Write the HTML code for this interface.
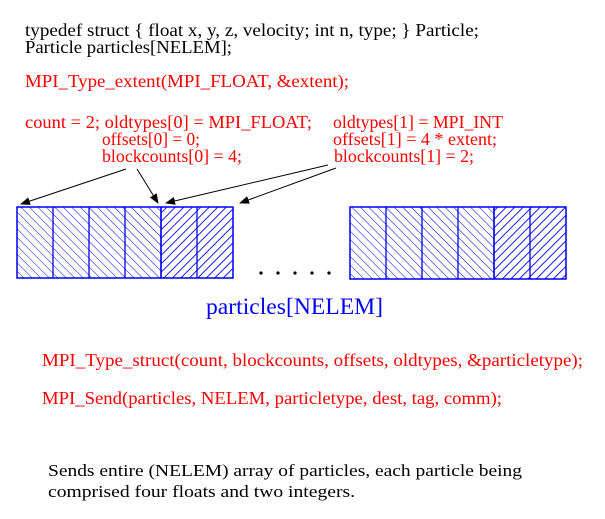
<!DOCTYPE html>
<html><head><meta charset="utf-8"><style>
html,body{margin:0;padding:0;background:#fff;}
svg{display:block;font-family:"Liberation Serif",serif;}
</style></head><body>
<svg width="605" height="519" viewBox="0 0 605 519">
<defs>
<pattern id="fl" width="6" height="6" patternUnits="userSpaceOnUse" patternTransform="rotate(-45)">
<line x1="0" y1="0" x2="0" y2="6" stroke="#00f" stroke-width="1"/></pattern>
<pattern id="in" width="6" height="6" patternUnits="userSpaceOnUse" patternTransform="rotate(45)">
<line x1="0" y1="0" x2="0" y2="6" stroke="#00f" stroke-width="1.8"/></pattern>
<marker id="ah" markerWidth="10" markerHeight="8" refX="9" refY="4" orient="auto" markerUnits="userSpaceOnUse">
<path d="M0,0 L10,4 L0,8 Z" fill="#000"/></marker>
</defs>
<g font-size="18">
<text x="25" y="36" textLength="454" lengthAdjust="spacingAndGlyphs">typedef  struct  { float x, y, z, velocity;   int  n, type; }  Particle;</text>
<text x="25" y="53" textLength="207" lengthAdjust="spacingAndGlyphs">Particle   particles[NELEM];</text>
<g fill="#f00">
<text x="25" y="87" textLength="324" lengthAdjust="spacingAndGlyphs">MPI_Type_extent(MPI_FLOAT, &amp;extent);</text>
<text x="25" y="128" textLength="287" lengthAdjust="spacingAndGlyphs">count = 2;  oldtypes[0] = MPI_FLOAT;</text>
<text x="102" y="145" textLength="98" lengthAdjust="spacingAndGlyphs">offsets[0] = 0;</text>
<text x="102" y="162" textLength="140" lengthAdjust="spacingAndGlyphs">blockcounts[0] = 4;</text>
<text x="333" y="128" textLength="170" lengthAdjust="spacingAndGlyphs">oldtypes[1] = MPI_INT</text>
<text x="333" y="145" textLength="164" lengthAdjust="spacingAndGlyphs">offsets[1] = 4 * extent;</text>
<text x="334" y="162" textLength="140" lengthAdjust="spacingAndGlyphs">blockcounts[1] = 2;</text>
<text x="42" y="366" textLength="541" lengthAdjust="spacingAndGlyphs">MPI_Type_struct(count, blockcounts, offsets, oldtypes, &amp;particletype);</text>
<text x="42" y="404" textLength="460" lengthAdjust="spacingAndGlyphs">MPI_Send(particles,  NELEM, particletype,  dest,  tag,  comm);</text>
</g>
</g>
<g stroke="#000" stroke-width="1" fill="none" marker-end="url(#ah)">
<line x1="126" y1="169" x2="21" y2="204"/>
<line x1="137" y1="169" x2="158" y2="203"/>
<line x1="328" y1="165" x2="166" y2="203"/>
<line x1="336" y1="168" x2="240" y2="203"/>
</g>
<g stroke="#00f" stroke-width="1.3">
<rect x="17" y="207" width="144" height="71" fill="url(#fl)"/>
<rect x="161" y="207" width="72" height="71" fill="url(#in)"/>
<rect x="17" y="207" width="216" height="71" fill="none"/>
<line x1="53" y1="207" x2="53" y2="278"/><line x1="89" y1="207" x2="89" y2="278"/>
<line x1="125" y1="207" x2="125" y2="278"/><line x1="161" y1="207" x2="161" y2="278"/>
<line x1="197" y1="207" x2="197" y2="278"/>
</g>
<g stroke="#00f" stroke-width="1.3">
<rect x="350" y="207" width="144" height="72" fill="url(#fl)"/>
<rect x="494" y="207" width="72" height="72" fill="url(#in)"/>
<rect x="350" y="207" width="216" height="72" fill="none"/>
<line x1="386" y1="207" x2="386" y2="279"/><line x1="422" y1="207" x2="422" y2="279"/>
<line x1="458" y1="207" x2="458" y2="279"/><line x1="494" y1="207" x2="494" y2="279"/>
<line x1="530" y1="207" x2="530" y2="279"/>
</g>
<g fill="#000">
<circle cx="261" cy="273" r="1.6"/><circle cx="278" cy="273" r="1.6"/><circle cx="295" cy="273" r="1.6"/><circle cx="312" cy="273" r="1.6"/><circle cx="329" cy="273" r="1.6"/>
</g>
<text x="206" y="314" font-size="23" fill="#00f" textLength="177" lengthAdjust="spacingAndGlyphs">particles[NELEM]</text>
<g font-size="17">
<text x="48" y="476" textLength="474" lengthAdjust="spacingAndGlyphs">Sends entire (NELEM) array  of  particles,  each particle  being</text>
<text x="48" y="497" textLength="307" lengthAdjust="spacingAndGlyphs">comprised  four  floats  and  two  integers.</text>
</g>
</svg>
</body></html>
